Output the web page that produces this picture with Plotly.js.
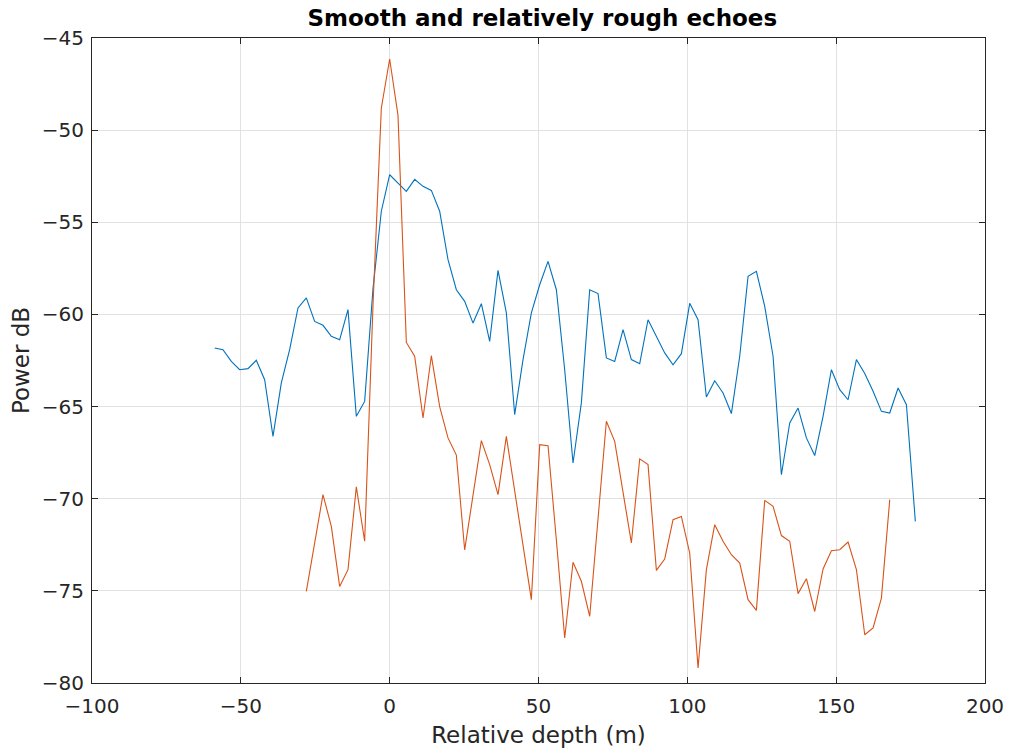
<!DOCTYPE html>
<html>
<head>
<meta charset="utf-8">
<script src="https://cdn.plot.ly/plotly-3.0.1.min.js"></script>
<style>html,body{margin:0;padding:0;background:#fff;}#chart{width:1009px;height:751px;}</style>
</head>
<body>
<div id="chart"></div>
<script>
// Smooth echo (blue)
const smoothX = [-58.8,-56.0,-53.2,-50.4,-47.6,-44.8,-42.0,-39.2,-36.4,-33.6,-30.8,-28.0,-25.2,-22.4,-19.6,-16.8,-14.0,-11.2,-8.4,-5.6,-2.8,0.0,2.8,5.6,8.4,11.2,14.0,16.8,19.6,22.4,25.2,28.0,30.8,33.6,36.4,39.2,42.0,44.8,47.6,50.4,53.2,56.0,58.8,61.6,64.4,67.2,70.0,72.8,75.6,78.4,81.2,84.0,86.8,89.6,92.4,95.2,98.0,100.8,103.6,106.4,109.2,112.0,114.8,117.6,120.4,123.2,126.0,128.8,131.6,134.4,137.2,140.0,142.8,145.6,148.4,151.2,154.0,156.8,159.6,162.4,165.2,168.0,170.8,173.6,176.6];
const smoothY = [-61.82,-61.91,-62.55,-63.0,-62.94,-62.49,-63.54,-66.62,-63.72,-61.91,-59.65,-59.1,-60.38,-60.59,-61.19,-61.37,-59.74,-65.53,-64.72,-58.6,-54.4,-52.42,-52.87,-53.32,-52.67,-53.05,-53.27,-54.4,-57.03,-58.66,-59.29,-60.47,-59.42,-61.46,-57.61,-59.92,-65.44,-62.45,-59.92,-58.39,-57.12,-58.66,-63.0,-68.06,-64.8,-58.66,-58.87,-62.36,-62.55,-60.83,-62.45,-62.67,-60.29,-61.19,-62.09,-62.73,-62.13,-59.4,-60.29,-64.48,-63.6,-64.26,-65.38,-62.27,-57.93,-57.66,-59.56,-62.27,-68.7,-65.89,-65.08,-66.7,-67.66,-65.53,-63.0,-64.08,-64.63,-62.45,-63.21,-64.17,-65.26,-65.35,-63.99,-64.9,-71.23];

// Relatively rough echo (orange)
const roughX = [-28.0,-25.2,-22.4,-19.6,-16.8,-14.0,-11.2,-8.4,-5.6,-2.8,0.0,2.8,5.6,8.4,11.2,14.0,16.8,19.6,22.4,25.2,28.0,30.8,33.6,36.4,39.2,42.0,44.8,47.6,50.4,53.2,56.0,58.8,61.6,64.4,67.2,70.0,72.8,75.6,78.4,81.2,84.0,86.8,89.6,92.4,95.2,98.0,100.8,103.6,106.4,109.2,112.0,114.8,117.6,120.4,123.2,126.0,128.8,131.6,134.4,137.2,140.0,142.8,145.6,148.4,151.2,154.0,156.8,159.6,162.4,165.2,168.0];
const roughY = [-75.03,-72.4,-69.78,-71.5,-74.76,-73.85,-69.36,-72.31,-59.5,-48.8,-46.14,-49.2,-61.52,-62.27,-65.62,-62.24,-65.0,-66.7,-67.63,-72.78,-69.8,-66.85,-68.15,-69.78,-66.62,-69.6,-72.5,-75.48,-67.07,-67.13,-72.24,-77.56,-73.45,-74.48,-76.38,-71.3,-65.8,-66.89,-69.64,-72.4,-67.84,-68.15,-73.89,-73.27,-71.14,-70.96,-72.95,-79.19,-73.85,-71.41,-72.31,-73.04,-73.49,-75.48,-76.06,-70.09,-70.41,-72.0,-72.31,-75.15,-74.34,-76.12,-73.81,-72.82,-72.77,-72.35,-73.85,-77.38,-77.01,-75.39,-70.05];

const titleText = "Smooth and relatively rough echoes";
const xTitle = "Relative depth (m)";
const yTitle = "Power dB";

const font = "'DejaVu Sans', sans-serif";

const traces = [
  {x: smoothX, y: smoothY, type: 'scatter', mode: 'lines', name: 'Smooth',
   line: {color: '#0072BD', width: 1.1}},
  {x: roughX, y: roughY, type: 'scatter', mode: 'lines', name: 'Rough',
   line: {color: '#D95319', width: 1.1}}
];

const axisCommon = {
  showline: true, linecolor: '#262626', linewidth: 1, mirror: 'ticks',
  ticks: 'inside', ticklen: 6, tickcolor: '#262626', tickwidth: 1,
  showgrid: true, gridcolor: '#e1e1e1', gridwidth: 1, zeroline: false,
  tickfont: {family: font, size: 20, color: '#262626'}
};

const layout = {
  width: 1009, height: 751,
  margin: {l: 92, r: 24, t: 38, b: 68},
  paper_bgcolor: '#ffffff', plot_bgcolor: '#ffffff',
  showlegend: false,
  title: {text: '<b>' + titleText + '</b>', x: 0.5375, xanchor: 'center', y: 0.976, yanchor: 'middle',
          font: {family: font, size: 23, color: '#000000'}},
  xaxis: Object.assign({}, axisCommon, {
    range: [-100, 200], dtick: 50, tick0: -100, ticklabelstandoff: 5,
    title: {text: xTitle, standoff: 9, font: {family: font, size: 23, color: '#262626'}}
  }),
  yaxis: Object.assign({}, axisCommon, {
    range: [-80, -45], dtick: 5, tick0: -80, ticklabelstandoff: 3,
    title: {text: yTitle, standoff: 5, font: {family: font, size: 23, color: '#262626'}}
  })
};

Plotly.newPlot('chart', traces, layout, {displayModeBar: false, staticPlot: true});
</script>
</body>
</html>
